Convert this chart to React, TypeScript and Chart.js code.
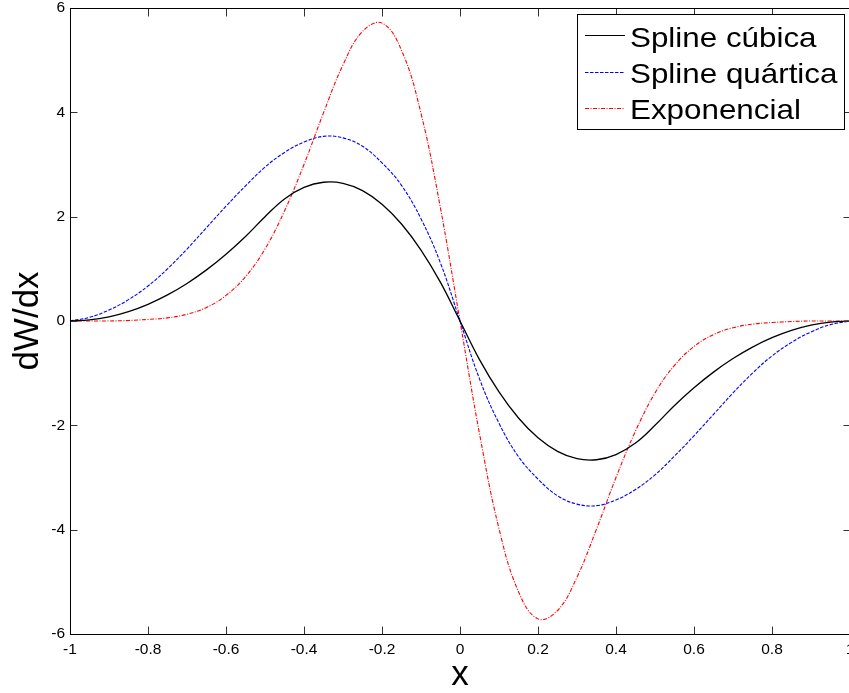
import React, { useEffect, useRef } from 'react';
import { Chart, registerables } from 'chart.js';

Chart.register(...registerables);

// ---- data ----
const xValues = [
  -1, -0.95, -0.9, -0.85, -0.8, -0.75, -0.7, -0.65, -0.6, -0.55, -0.5,
  -0.45, -0.4, -0.35, -0.3, -0.25, -0.2, -0.15, -0.1, -0.05, 0,
  0.05, 0.1, 0.15, 0.2, 0.25, 0.3, 0.35, 0.4, 0.45, 0.5,
  0.55, 0.6, 0.65, 0.7, 0.75, 0.8, 0.85, 0.9, 0.95, 1,
];

const cubicSpline = [
  0, 0.02, 0.08, 0.18, 0.32, 0.5, 0.72, 0.98, 1.28, 1.62, 2.0,
  2.34, 2.56, 2.66, 2.64, 2.5, 2.24, 1.86, 1.36, 0.74, 0,
  -0.74, -1.36, -1.86, -2.24, -2.5, -2.64, -2.66, -2.56, -2.34, -2.0,
  -1.62, -1.28, -0.98, -0.72, -0.5, -0.32, -0.18, -0.08, -0.02, 0,
];

const quarticSpline = [
  0, 0.07, 0.21, 0.41, 0.67, 1.0, 1.38, 1.79, 2.2, 2.59, 2.95,
  3.23, 3.43, 3.54, 3.51, 3.35, 3.03, 2.6, 1.96, 1.11, 0,
  -1.11, -1.96, -2.6, -3.03, -3.35, -3.51, -3.54, -3.43, -3.23, -2.95,
  -2.59, -2.2, -1.79, -1.38, -1.0, -0.67, -0.41, -0.21, -0.07, 0,
];

const exponential = [
  0, 0, 0, 0.01, 0.03, 0.06, 0.13, 0.26, 0.49, 0.85, 1.38,
  2.11, 3.0, 3.99, 4.91, 5.55, 5.71, 5.19, 3.98, 2.16, 0,
  -2.16, -3.98, -5.19, -5.71, -5.55, -4.91, -3.99, -3.0, -2.11, -1.38,
  -0.85, -0.49, -0.26, -0.13, -0.06, -0.03, -0.01, 0, 0, 0,
];

const seriesNames = ['Spline cúbica', 'Spline quártica', 'Exponencial'];
const xTicks = [-1, -0.8, -0.6, -0.4, -0.2, 0, 0.2, 0.4, 0.6, 0.8, 1];
const xTickLabels = ['-1', '-0.8', '-0.6', '-0.4', '-0.2', '0', '0.2', '0.4', '0.6', '0.8', '1'];
const yTicks = [-6, -4, -2, 0, 2, 4, 6];
const yTickLabels = ['-6', '-4', '-2', '0', '2', '4', '6'];
const xTitle = 'x';
const yTitle = 'dW/dx';

const FONT = '"Liberation Sans", Arial, Helvetica, sans-serif';

const axesPlugin = {
  id: 'matlabAxes',
  afterDraw(chart: any) {
    const { ctx, chartArea } = chart;
    const xs = chart.scales.x;
    const ys = chart.scales.y;
    const L = Math.round(chartArea.left) + 0.5;
    const R = Math.round(chartArea.right) + 0.5;
    const T = Math.round(chartArea.top) + 0.5;
    const B = Math.round(chartArea.bottom) + 0.5;
    ctx.save();
    // inward ticks
    ctx.strokeStyle = '#333';
    ctx.lineWidth = 1;
    ctx.beginPath();
    xTicks.forEach((v) => {
      const px = Math.round(xs.getPixelForValue(v)) + 0.5;
      ctx.moveTo(px, B);
      ctx.lineTo(px, B - 8);
      ctx.moveTo(px, T);
      ctx.lineTo(px, T + 8);
    });
    yTicks.forEach((v) => {
      const py = Math.round(ys.getPixelForValue(v)) + 0.5;
      ctx.moveTo(L, py);
      ctx.lineTo(L + 7, py);
      ctx.moveTo(R, py);
      ctx.lineTo(R - 7, py);
    });
    ctx.stroke();
    // box
    ctx.strokeStyle = '#000';
    ctx.strokeRect(L, T, R - L, B - T);

    // legend
    const bx = 577.5, by = 14.5, bw = 267, bh = 115;
    ctx.fillStyle = '#fff';
    ctx.fillRect(bx, by, bw, bh);
    ctx.strokeStyle = '#000';
    ctx.lineWidth = 1;
    ctx.strokeRect(bx, by, bw, bh);
    const lineYs = [35.5, 72.5, 108.5];
    const baseYs = [46.5, 82.5, 118.5];
    chart.data.datasets.forEach((ds: any, i: number) => {
      ctx.save();
      ctx.strokeStyle = ds.borderColor;
      ctx.lineWidth = 1;
      ctx.setLineDash(ds.borderDash || []);
      ctx.beginPath();
      ctx.moveTo(585, lineYs[i]);
      ctx.lineTo(625, lineYs[i]);
      ctx.stroke();
      ctx.restore();
      ctx.save();
      ctx.fillStyle = '#000';
      ctx.font = `28px ${FONT}`;
      ctx.textBaseline = 'alphabetic';
      ctx.textAlign = 'left';
      ctx.translate(630, baseYs[i]);
      ctx.scale(1.12, 1);
      ctx.fillText(ds.label, 0, 0);
      ctx.restore();
    });
    ctx.restore();
  },
};

export default function App() {
  const canvasRef = useRef<HTMLCanvasElement | null>(null);

  useEffect(() => {
    if (!canvasRef.current) return;
    const mk = (ys: number[]) => xValues.map((x, i) => ({ x, y: ys[i] }));
    const chart = new Chart(canvasRef.current, {
      type: 'line',
      data: {
        datasets: [
          {
            label: seriesNames[0],
            data: mk(cubicSpline),
            borderColor: '#000000',
            borderWidth: 1.3,
            pointRadius: 0,
            fill: false,
            tension: 0.4,
          },
          {
            label: seriesNames[1],
            data: mk(quarticSpline),
            borderColor: '#0000ff',
            borderWidth: 1.1,
            borderDash: [3.5, 1.5],
            pointRadius: 0,
            fill: false,
            tension: 0.4,
          },
          {
            label: seriesNames[2],
            data: mk(exponential),
            borderColor: '#ff0000',
            borderWidth: 1.1,
            borderDash: [4, 1.5, 1, 1.5],
            pointRadius: 0,
            fill: false,
            tension: 0.4,
          },
        ],
      },
      options: {
        animation: false,
        responsive: false,
        devicePixelRatio: 1,
        layout: { padding: { left: 0, right: 10, top: 8, bottom: 0 } },
        plugins: { legend: { display: false }, tooltip: { enabled: false } },
        scales: {
          x: {
            type: 'linear',
            min: -1,
            max: 1,
            afterBuildTicks: (s: any) => {
              s.ticks = xTicks.map((v) => ({ value: v }));
            },
            ticks: {
              callback: (_v: any, i: number) => xTickLabels[i],
              font: { family: FONT, size: 15.5 },
              color: '#000',
              padding: 6,
              maxRotation: 0,
              autoSkip: false,
            },
            grid: { display: false, drawTicks: false },
            border: { display: false },
            title: {
              display: true,
              text: xTitle,
              font: { family: FONT, size: 35 },
              color: '#000',
              padding: { top: 0, bottom: -3 },
            },
            afterFit: (s: any) => {
              s.height = 59;
              s.paddingLeft = 0;
              s.paddingRight = 0;
            },
          },
          y: {
            type: 'linear',
            min: -6,
            max: 6,
            afterBuildTicks: (s: any) => {
              s.ticks = yTicks.map((v) => ({ value: v }));
            },
            ticks: {
              callback: (_v: any, i: number) => yTickLabels[i],
              font: { family: FONT, size: 15.5 },
              color: '#000',
              padding: 5,
              autoSkip: false,
            },
            grid: { display: false, drawTicks: false },
            border: { display: false },
            title: {
              display: true,
              text: yTitle,
              font: { family: FONT, size: 35 },
              color: '#000',
              padding: { top: 7, bottom: 0 },
            },
            afterFit: (s: any) => {
              s.width = 70;
              s.paddingTop = 0;
              s.paddingBottom = 0;
            },
          },
        },
      },
      plugins: [axesPlugin],
    } as any);
    return () => chart.destroy();
  }, []);

  return (
    <div
      style={{
        position: 'fixed',
        left: 0,
        top: 0,
        width: 849,
        height: 693,
        overflow: 'hidden',
        background: '#fff',
      }}
    >
      <canvas ref={canvasRef} width={860} height={693} style={{ display: 'block' }} />
    </div>
  );
}
